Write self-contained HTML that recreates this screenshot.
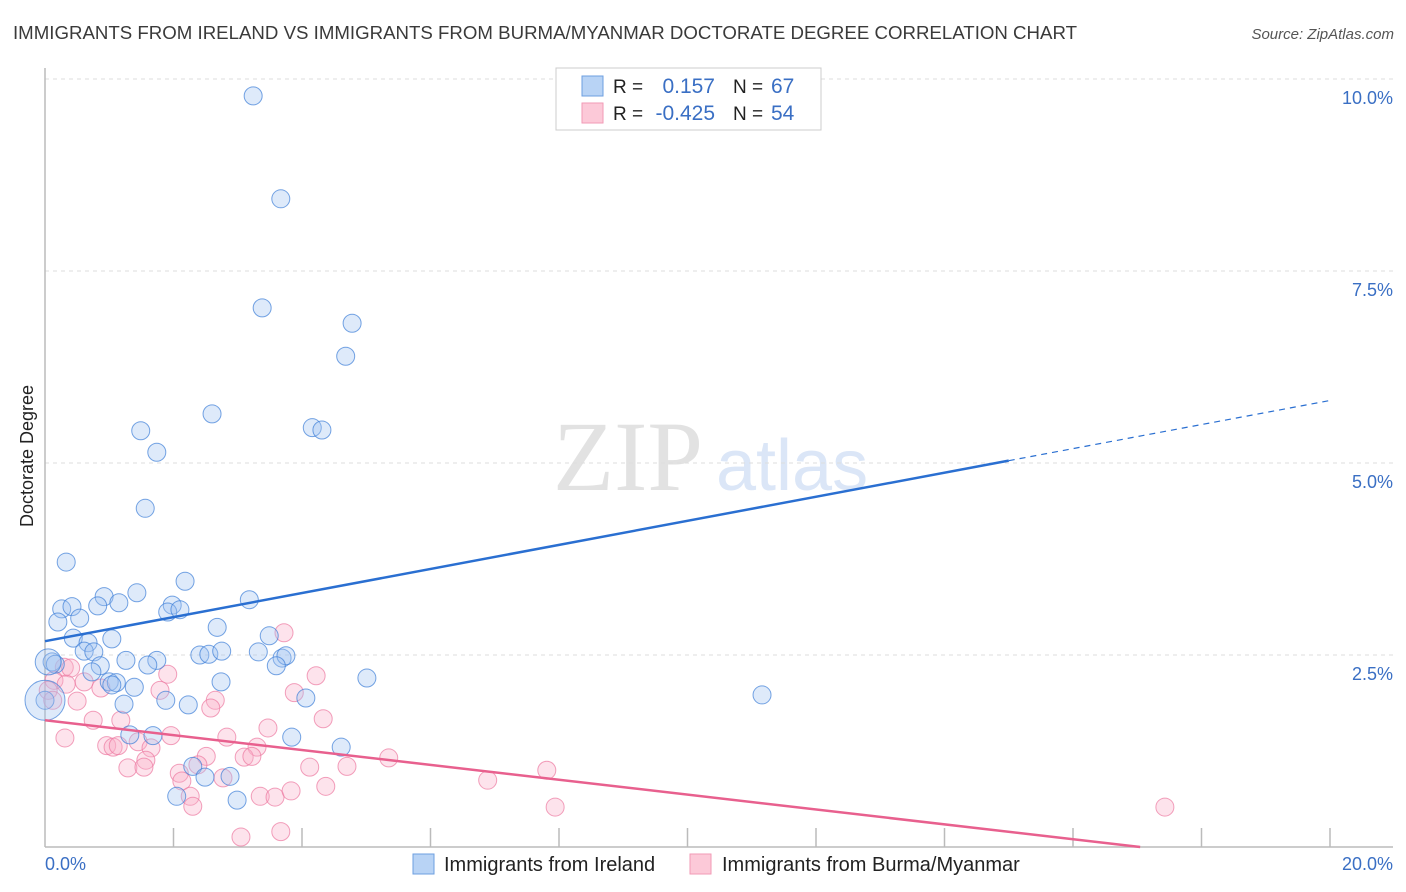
<!DOCTYPE html>
<html><head><meta charset="utf-8"><style>
body{margin:0;background:#fff;width:1406px;height:892px;overflow:hidden;font-family:"Liberation Sans",sans-serif}
svg{display:block}
</style></head><body>
<svg id="chart" width="1406" height="892">
<text x="13" y="39" font-size="18" fill="#3a3a3a" textLength="1064" lengthAdjust="spacingAndGlyphs">IMMIGRANTS FROM IRELAND VS IMMIGRANTS FROM BURMA/MYANMAR DOCTORATE DEGREE CORRELATION CHART</text>
<text x="1394" y="39" font-size="15" fill="#555" font-style="italic" text-anchor="end">Source: ZipAtlas.com</text>
<g>
<text x="553" y="490" font-family="Liberation Serif,serif" font-size="100" fill="#e2e2e2">ZIP</text>
<text x="716" y="490" font-size="72" fill="#dbe6f7">atlas</text>
</g>
<g id="grid"></g>
<line x1="45" y1="68" x2="45" y2="847" stroke="#bbb" stroke-width="1.5"/>
<line x1="45" y1="847" x2="1393" y2="847" stroke="#bbb" stroke-width="1.5"/>
<text transform="translate(33,456) rotate(-90)" font-size="18" fill="#222" text-anchor="middle">Doctorate Degree</text>
<g id="points"></g>
<g id="trends"></g>
<g>
<rect x="556" y="68" width="265" height="62" fill="#fff" stroke="#ccc"/>
<rect x="582" y="76" width="21" height="20" fill="#b8d3f5" stroke="#6d9fe0"/>
<rect x="582" y="103" width="21" height="20" fill="#fcc9d8" stroke="#f29ab6"/>
<text x="613" y="93" font-size="19" fill="#222">R =</text>
<text x="715" y="93" font-size="21" fill="#3a6fc4" text-anchor="end">0.157</text>
<text x="733" y="93" font-size="19" fill="#222">N =</text>
<text x="771" y="93" font-size="21" fill="#3a6fc4">67</text>
<text x="613" y="120" font-size="19" fill="#222">R =</text>
<text x="715" y="120" font-size="21" fill="#3a6fc4" text-anchor="end">-0.425</text>
<text x="733" y="120" font-size="19" fill="#222">N =</text>
<text x="771" y="120" font-size="21" fill="#3a6fc4">54</text>
</g>
<g>
<rect x="413" y="854" width="21" height="20" fill="#b8d3f5" stroke="#6d9fe0"/>
<text x="444" y="871" font-size="20" fill="#222">Immigrants from Ireland</text>
<rect x="690" y="854" width="21" height="20" fill="#fcc9d8" stroke="#f29ab6"/>
<text x="722" y="871" font-size="20" fill="#222">Immigrants from Burma/Myanmar</text>
</g>
</svg>
<script>
const yTicks=[2.5,5.0,7.5,10.0];
const yTickLabels=["2.5%","5.0%","7.5%","10.0%"];
const xTicks=[2,4,6,8,10,12,14,16,18,20];
const xEndLabels=["0.0%","20.0%"];
const blueX=[3.24,3.67,3.38,4.78,4.68,2.60,1.49,4.16,4.31,1.74,1.56,0.33,2.18,1.43,0.92,3.18,0.26,0.42,0.82,1.15,1.98,1.91,2.10,0.20,0.54,0.44,0.67,1.04,2.68,3.49,0.61,0.76,2.41,2.55,2.75,3.32,3.69,3.75,0.11,1.26,1.74,1.60,3.60,0.86,0.73,0.16,5.01,11.16,1.00,1.11,1.39,2.74,1.04,1.88,4.06,1.23,2.23,0.00,1.32,1.68,3.84,4.61,2.30,2.88,2.49,2.05,2.99];
const blueY=[9.78,8.44,7.02,6.82,6.39,5.64,5.42,5.46,5.43,5.14,4.41,3.71,3.46,3.31,3.26,3.22,3.10,3.13,3.14,3.18,3.15,3.06,3.09,2.93,2.98,2.72,2.66,2.71,2.86,2.75,2.55,2.54,2.50,2.51,2.55,2.54,2.46,2.49,2.41,2.43,2.43,2.37,2.36,2.36,2.28,2.38,2.20,1.98,2.15,2.14,2.08,2.15,2.11,1.91,1.94,1.86,1.85,1.91,1.46,1.45,1.43,1.30,1.05,0.92,0.91,0.66,0.61];
const blueBig=[[0.00,1.91,20],[0.05,2.41,13]];
const pinkX=[3.72,0.30,0.40,1.91,4.22,0.14,0.33,0.61,1.79,0.05,0.87,2.65,3.88,0.50,2.58,0.75,1.18,4.33,0.31,3.47,0.96,1.06,1.14,1.45,1.65,1.96,2.83,3.30,1.57,1.29,1.54,2.51,3.10,3.22,5.35,2.09,4.12,4.70,7.81,2.38,6.89,2.13,2.77,4.37,2.26,3.35,3.58,3.83,7.94,17.43,3.05,3.67,2.30,0.12];
const pinkY=[2.79,2.34,2.33,2.25,2.23,2.17,2.12,2.15,2.04,2.04,2.07,1.91,2.01,1.90,1.81,1.65,1.65,1.67,1.42,1.55,1.32,1.30,1.32,1.37,1.29,1.45,1.43,1.30,1.13,1.03,1.04,1.18,1.17,1.18,1.16,0.96,1.04,1.05,1.00,1.07,0.87,0.86,0.90,0.79,0.66,0.66,0.65,0.73,0.52,0.52,0.13,0.20,0.53,1.91];
const blueTrend=[2.68,0.1567];
const pinkTrend=[1.65,-0.0968];
const sx=v=>45+v*64.25, sy=v=>847-v*76.8;
const NS="http://www.w3.org/2000/svg";
function mk(tag,attrs,parent){const e=document.createElementNS(NS,tag);for(const k in attrs)e.setAttribute(k,attrs[k]);parent.appendChild(e);return e;}
const grid=document.getElementById('grid');
yTicks.forEach((t,i)=>{
 const l=mk('line',{x1:45,x2:1393,y1:sy(t),y2:sy(t),stroke:'#ddd','stroke-dasharray':'4,4'},grid);
 
 
 const tx=mk('text',{x:1393,y:sy(t)+25,'font-size':18,fill:'#3a6fc4','text-anchor':'end'},grid);
 tx.textContent=yTickLabels[i];
 
 
});
xTicks.forEach(t=>{
 const l=mk('line',{x1:sx(t),x2:sx(t),y1:828,y2:847,stroke:'#bbb','stroke-width':1.5},grid);
 
 
});
const xl0=mk('text',{x:45,y:870,'font-size':18,fill:'#3a6fc4'},grid);xl0.textContent=xEndLabels[0];


const xl1=mk('text',{x:1393,y:870,'font-size':18,fill:'#3a6fc4','text-anchor':'end'},grid);xl1.textContent=xEndLabels[1];


const pts=document.getElementById('points');
pinkX.forEach((x,i)=>{
 const c=mk('circle',{cx:sx(x),cy:sy(pinkY[i]),r:9,fill:'rgba(248,175,200,0.35)',stroke:'rgba(236,120,160,0.7)','stroke-width':1},pts);
 
 
});
blueX.forEach((x,i)=>{
 const c=mk('circle',{cx:sx(x),cy:sy(blueY[i]),r:9,fill:'rgba(160,195,240,0.35)',stroke:'rgba(60,125,215,0.7)','stroke-width':1},pts);
 
 
});
blueBig.forEach(p=>{
 const c=mk('circle',{cx:sx(p[0]),cy:sy(p[1]),r:p[2],fill:'rgba(160,195,240,0.35)',stroke:'rgba(60,125,215,0.7)','stroke-width':1},pts);
 
 
});
const tr=document.getElementById('trends');
const b1=mk('line',{x1:sx(0),y1:sy(blueTrend[0]),x2:sx(15),y2:sy(blueTrend[0]+15*blueTrend[1]),stroke:'#2a6fd1','stroke-width':2.5},tr);


const b2=mk('line',{x1:sx(15),y1:sy(blueTrend[0]+15*blueTrend[1]),x2:sx(20),y2:sy(blueTrend[0]+20*blueTrend[1]),stroke:'#2a6fd1','stroke-width':1.2,'stroke-dasharray':'6,5'},tr);


const xEnd=-pinkTrend[0]/pinkTrend[1];
const p1=mk('line',{x1:sx(0),y1:sy(pinkTrend[0]),x2:sx(xEnd),y2:sy(0),stroke:'#e8608e','stroke-width':2.5},tr);


</script>
</body></html>
